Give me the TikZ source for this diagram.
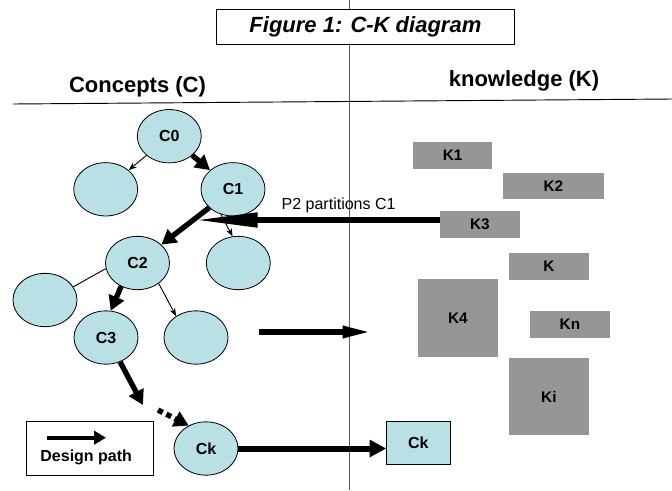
\documentclass[tikz,border=0pt]{standalone}
\usepackage{fontspec}
\setmainfont{Liberation Sans}
\usetikzlibrary{arrows.meta,shapes.geometric}
\definecolor{cfill}{RGB}{185,224,228}
\definecolor{kfill}{RGB}{150,150,150}
\tikzset{>=Stealth,
  concept/.style={ellipse,draw,fill=cfill,line width=0.6pt,minimum width=48pt,minimum height=40pt,inner sep=0pt,font=\bfseries\fontsize{12}{12}\selectfont},
  kbox/.style={fill=kfill,minimum width=59.6pt,minimum height=20pt,inner sep=0pt,font=\bfseries\fontsize{11.5}{12}\selectfont},
  side/.style={line width=0.7pt,-{Stealth[length=6pt,width=4.5pt]}},
  design/.style={line width=4pt,-{Triangle[length=11pt,width=12pt]}},
  heading/.style={font=\bfseries\fontsize{16.5}{18}\selectfont}}

\begin{document}
\begin{tikzpicture}[x=0.75pt,y=-0.75pt]
    \useasboundingbox (0,0) rectangle (672,490);
    \draw [black!65,line width=0.7pt] (349.7,0) -- (349.7,490);
    \draw [line width=0.7pt] (13,104) -- (672,99);
    \node (title) [draw,fill=white,line width=0.8pt,minimum width=223.4pt,minimum height=26pt,font=\bfseries\itshape\fontsize{16.5}{18}\selectfont] at (365.4,26.7) {Figure 1: C-K diagram};
    \node (conc) [heading] at (137.5,86.5) {Concepts (C)};
    \node (know) [heading] at (524,81) {knowledge (K)};

    \node (c0) [concept] at (169.3,136.2) {C0};
    \node (e0) [concept] at (105.7,189.3) {};
    \node (c1) [concept] at (233,189.3) {C1};
    \node (c2) [concept] at (137.5,263) {C2};
    \node (e1) [concept] at (238.3,263) {};
    \node (e2) [concept] at (45,300) {};
    \node (c3) [concept] at (106,337.5) {C3};
    \node (e3) [concept] at (196,337.5) {};
    \node (ck) [concept] at (206,448.5) {Ck};

    \node (k1) [kbox] at (452.7,155.7) {K1};
    \node (k2) [kbox,minimum width=75.4pt,minimum height=19.5pt] at (553.3,186.3) {K2};
    \node (k3) [kbox] at (479.8,224.3) {K3};
    \node (k) [kbox] at (548.9,266.7) {K};
    \node (k4) [kbox,minimum height=58pt] at (457.8,318) {K4};
    \node (kn) [kbox] at (569.9,324.3) {Kn};
    \node (ki) [kbox,minimum height=58pt] at (548.9,396.7) {Ki};
    \node (cksq) [draw,fill=cfill,line width=0.6pt,minimum width=47.5pt,minimum height=31.7pt,font=\bfseries\fontsize{12}{12}\selectfont] at (418.3,442.8) {Ck};

    \node (legend) [draw,line width=0.7pt,minimum width=95pt,minimum height=40pt] at (90,448.3) {};
    \node (dp) [font=\bfseries\fontsize{12}{12}\selectfont] at (86.2,457) {Design path};
    \coordinate (l1) at (47,437.7);
    \coordinate (l2) at (106,437.7);
    \draw [line width=3.2pt,-{Triangle[length=9pt,width=10pt]}] (l1) -- (l2);

    \coordinate (p2) at (191,220);
    \coordinate (p3) at (143,405);
    \coordinate (pk) at (158,410);
    \coordinate (a1) at (258.5,332);
    \coordinate (a2) at (370.7,332);

    \draw [design] (c0) -- (c1);
    \draw [side] (c0) -- (e0);
    \draw [design] (c1) -- (c2);
    \draw [side] (c1.244) -- (e1.102);
    \draw [line width=0.7pt] (c2.190) -- (e2.25);
    \draw [design] (c2.235) -- (c3.80);
    \draw [side] (c2.316) -- (e3.133);
    \draw [design] (c3.300) -- (p3);
    \draw [design,dash pattern=on 4pt off 3pt] (pk) -- (ck.127);
    \draw [line width=4.5pt,-{Triangle[length=12.5pt,width=12.5pt]}] (ck) -- (ck -| cksq.west);
    \draw [line width=4pt,-{Triangle[length=21pt,width=8.5pt]}] (a1) -- (a2);
    \draw [line width=5pt,-{Triangle[length=50pt,width=10pt]}] (k3.west |- p2) -- (p2);
    \node (p2lab) [font=\fontsize{12}{12}\selectfont] at (338.6,205) {P2 partitions C1};
\end{tikzpicture}
\end{document}
